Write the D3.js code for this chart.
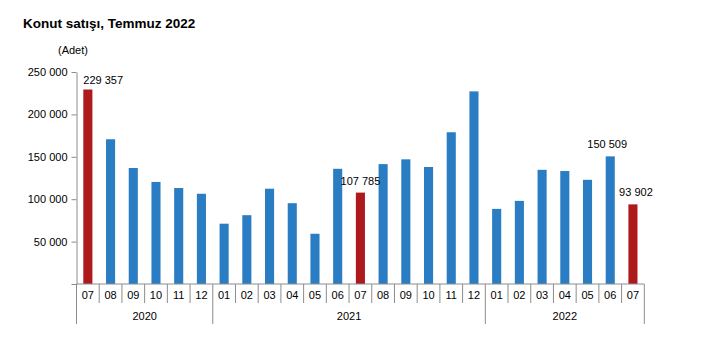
<!DOCTYPE html>
<html>
<head>
<meta charset="utf-8">
<script src="https://cdn.jsdelivr.net/npm/d3@7"></script>
<style>
  html, body { margin: 0; padding: 0; background: #fff; }
  svg { display: block; font-family: "Liberation Sans", Arial, sans-serif; }
</style>
</head>
<body>
<svg id="chart" width="725" height="337"></svg>
<script>
// Monthly house sales (units), July 2020 – July 2022
const months = ["07","08","09","10","11","12",
                "01","02","03","04","05","06","07","08","09","10","11","12",
                "01","02","03","04","05","06","07"];
const years = [
  { label: "2020", count: 6 },
  { label: "2021", count: 12 },
  { label: "2022", count: 7 }
];
const sales = [229357, 170690, 136780, 120332, 113174, 106409,
               71118, 81164, 112378, 95283, 59250, 135845, 107785, 141382, 147020, 137957, 178940, 227155,
               88577, 98017, 134643, 133218, 122848, 150509, 93902];
// Indices of July bars, highlighted in red
const highlighted = [0, 12, 24];
// Bars that carry a value label
const labelled = [0, 12, 23, 24];
const yTicks = [0, 50000, 100000, 150000, 200000, 250000];

const svg = d3.select("#chart");
const plotLeft = 76.5, plotRight = 644.3, plotTop = 72, plotBottom = 284;
const axisColor = "#8c8c8c";
const fmt = v => d3.format(",")(v).replace(/,/g, " ");

const ids = months.map((m, i) => i);
const x = d3.scaleBand().domain(ids).range([plotLeft, plotRight]).paddingInner(0.6).paddingOuter(0.3);
const y = d3.scaleLinear().domain([0, 250000]).range([plotBottom, plotTop]);

// Title and unit
svg.append("text").attr("x", 23).attr("y", 28)
  .attr("font-size", 13.5).attr("font-weight", "bold").attr("fill", "#000")
  .text("Konut satışı, Temmuz 2022");
svg.append("text").attr("x", 58).attr("y", 54)
  .attr("font-size", 11).attr("fill", "#000").text("(Adet)");

// Y axis
const yAxis = svg.append("g").attr("transform", `translate(${plotLeft},0)`)
  .call(d3.axisLeft(y).tickValues(yTicks).tickSize(5).tickSizeOuter(0).tickFormat(d => d === 0 ? "" : fmt(d)));
yAxis.select(".domain").attr("stroke", axisColor);
yAxis.selectAll(".tick line").attr("stroke", axisColor);
yAxis.selectAll(".tick text").attr("font-size", 11).attr("fill", "#000")
  .attr("x", -9).attr("font-family", "Liberation Sans, Arial, sans-serif");

// Bars
svg.append("g").selectAll("rect").data(sales).join("rect")
  .attr("x", (d, i) => x(i))
  .attr("width", x.bandwidth())
  .attr("y", d => y(d))
  .attr("height", d => y(0) - y(d))
  .attr("fill", (d, i) => highlighted.includes(i) ? "#ae191c" : "#2a7dc2");

// Value labels
const labelPos = {
  0: { anchor: "start", dx: -x.bandwidth() / 2, dy: -5.5 },
  12: { anchor: "middle", dx: 0, dy: -8 },
  23: { anchor: "middle", dx: -3, dy: -8 },
  24: { anchor: "middle", dx: 3, dy: -8 }
};
svg.append("g").selectAll("text").data(labelled).join("text")
  .attr("x", i => x(i) + x.bandwidth() / 2 + labelPos[i].dx)
  .attr("y", i => y(sales[i]) + labelPos[i].dy)
  .attr("text-anchor", i => labelPos[i].anchor)
  .attr("font-size", 11).attr("fill", "#000")
  .text(i => fmt(sales[i]));

// X axis: baseline, month separators, month labels, year groups
const gx = svg.append("g");
gx.append("line").attr("x1", plotLeft).attr("x2", plotRight).attr("y1", plotBottom).attr("y2", plotBottom)
  .attr("stroke", axisColor);
const bandStart = i => plotLeft + (plotRight - plotLeft) * i / months.length;
// separators between months
gx.selectAll("line.sep").data(d3.range(months.length + 1)).join("line")
  .attr("class", "sep")
  .attr("x1", i => bandStart(i)).attr("x2", i => bandStart(i))
  .attr("y1", plotBottom).attr("y2", 303)
  .attr("stroke", axisColor);
gx.selectAll("text.month").data(months).join("text")
  .attr("class", "month")
  .attr("x", (d, i) => bandStart(i + 0.5)).attr("y", 299)
  .attr("text-anchor", "middle").attr("font-size", 11).attr("fill", "#000")
  .text(d => d);
// year separators and labels
let acc = 0;
const yearBounds = [0];
years.forEach(yr => { acc += yr.count; yearBounds.push(acc); });
gx.selectAll("line.yearsep").data(yearBounds).join("line")
  .attr("class", "yearsep")
  .attr("x1", i => bandStart(i)).attr("x2", i => bandStart(i))
  .attr("y1", 303).attr("y2", 324)
  .attr("stroke", axisColor);
gx.selectAll("text.yearlabel").data(years).join("text")
  .attr("class", "yearlabel")
  .attr("x", (d, k) => (bandStart(yearBounds[k]) + bandStart(yearBounds[k + 1])) / 2)
  .attr("y", 320)
  .attr("text-anchor", "middle").attr("font-size", 11).attr("fill", "#000")
  .text(d => d.label);
</script>
</body>
</html>
